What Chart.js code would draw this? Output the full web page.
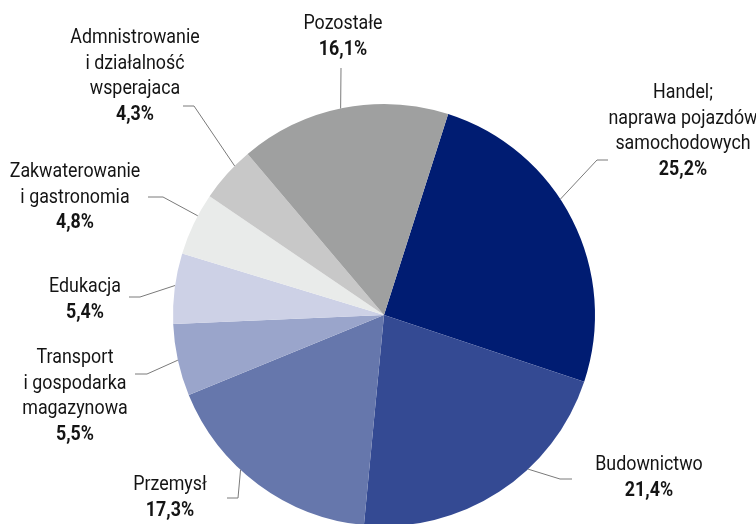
<!DOCTYPE html>
<html>
<head>
<meta charset="utf-8">
<script src="https://cdn.jsdelivr.net/npm/chart.js@4.4.1/dist/chart.umd.min.js"></script>
<style>
  html, body { margin: 0; padding: 0; background: #fff; overflow: hidden; }
  #chart { display: block; }
</style>
</head>
<body>
<canvas id="chart" width="756" height="540"></canvas>
<script>
// sectors, clockwise starting from Handel
const categories = [
    ['Handel;', 'naprawa pojazdów', 'samochodowych'],
    ['Budownictwo'],
    ['Przemysł'],
    ['Transport', 'i gospodarka', 'magazynowa'],
    ['Edukacja'],
    ['Zakwaterowanie', 'i gastronomia'],
    ['Admnistrowanie', 'i działalność', 'wsperajaca'],
    ['Pozostałe']
];
const shares = [25.2, 21.4, 17.3, 5.5, 5.4, 4.8, 4.3, 16.1];
const sliceColors = ['#001c72', '#344a93', '#6677ac', '#9aa5cb', '#cdd1e6', '#e9ebea', '#c8c8c8', '#9fa0a0'];

// label placement, offsets from the pie centre (px)
// frac = where along the slice the leader starts
const labelLayout = [
    { frac: 0.43, elbow: [213, -155], end: [224, -155], text: [299, -222] },
    { frac: 0.37, elbow: [176, 164], end: [188, 164], text: [265, 150] },
    { frac: 0.60, elbow: [-146, 183], end: [-157, 183], text: [-214, 170] },
    { frac: 0.50, elbow: [-237, 59], end: [-249, 59], text: [-309, 43] },
    { frac: 0.54, elbow: [-244, -18], end: [-255, -18], text: [-299, -28] },
    { frac: 0.64, elbow: [-221, -118], end: [-236, -118], text: [-309, -143] },
    { frac: 0.69, elbow: [-190, -209], end: [-201, -209], text: [-249, -277] },
    { frac: 0.49, elbow: [-43, -247], end: [-43, -247], text: [-41, -291] }
];

const FONT = 'Roboto, "Noto Sans", sans-serif';
const SQUEEZE = 0.87; // reference uses a condensed face

function pct(v) {
    return v.toFixed(1).replace('.', ',') + '%';
}

function narrowText(ctx, txt, x, y) {
    ctx.save();
    ctx.translate(x, y);
    ctx.scale(SQUEEZE, 1);
    ctx.fillText(txt, 0, 0);
    ctx.restore();
}

const outsideLabels = {
    id: 'outsideLabels',
    afterDraw(chart) {
        const ctx = chart.ctx;
        const arcs = chart.getDatasetMeta(0).data;
        ctx.save();
        arcs.forEach((arc, i) => {
            const lay = labelLayout[i];
            const cx = arc.x, cy = arc.y, r = arc.outerRadius;
            const a = arc.startAngle + (arc.endAngle - arc.startAngle) * lay.frac;
            // leader line
            ctx.strokeStyle = '#7a7a7a';
            ctx.lineWidth = 1;
            ctx.beginPath();
            ctx.moveTo(cx + Math.cos(a) * r, cy + Math.sin(a) * r);
            ctx.lineTo(cx + lay.elbow[0], cy + lay.elbow[1]);
            ctx.lineTo(cx + lay.end[0], cy + lay.end[1]);
            ctx.stroke();
            // text
            const lines = categories[i];
            const tx = cx + lay.text[0];
            let ty = cy + lay.text[1];
            ctx.fillStyle = '#141414';
            ctx.textAlign = 'center';
            ctx.textBaseline = 'middle';
            ctx.font = '20.5px ' + FONT;
            lines.forEach(line => {
                narrowText(ctx, line, tx, ty);
                ty += 25.5;
            });
            ctx.font = 'bold 20.5px ' + FONT;
            narrowText(ctx, pct(shares[i]), tx, ty);
        });
        ctx.restore();
    }
};

new Chart(document.getElementById('chart'), {
    type: 'pie',
    data: {
        labels: categories.map(l => l.join(' ')),
        datasets: [{
            data: shares,
            backgroundColor: sliceColors,
            borderWidth: 0
        }]
    },
    options: {
        responsive: false,
        animation: false,
        rotation: 17.7,
        layout: {
            padding: { left: 173, right: 161, top: 104, bottom: 14 }
        },
        plugins: {
            legend: { display: false },
            tooltip: { enabled: false }
        }
    },
    plugins: [outsideLabels]
});
</script>
</body>
</html>
